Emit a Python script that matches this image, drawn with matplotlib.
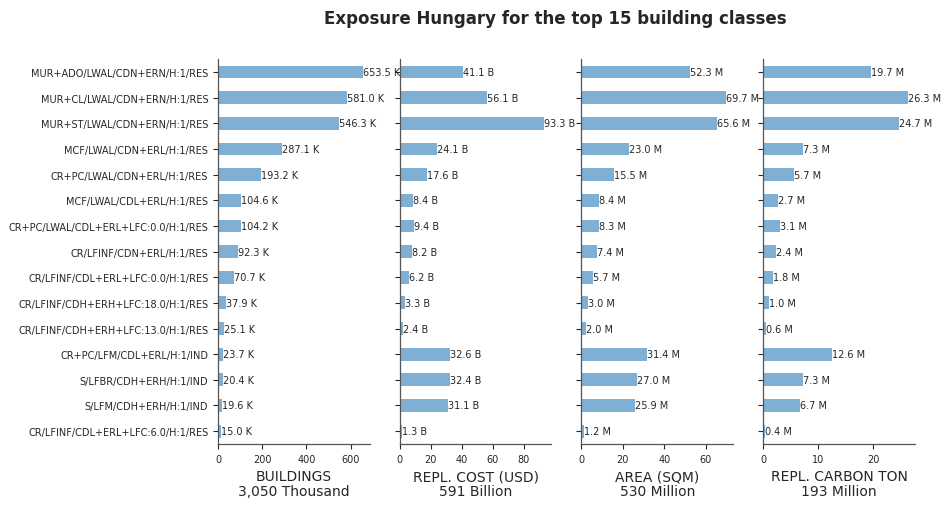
import matplotlib
matplotlib.use("Agg")
import matplotlib.pyplot as plt

categories = [
    "MUR+ADO/LWAL/CDN+ERN/H:1/RES",
    "MUR+CL/LWAL/CDN+ERN/H:1/RES",
    "MUR+ST/LWAL/CDN+ERN/H:1/RES",
    "MCF/LWAL/CDN+ERL/H:1/RES",
    "CR+PC/LWAL/CDN+ERL/H:1/RES",
    "MCF/LWAL/CDL+ERL/H:1/RES",
    "CR+PC/LWAL/CDL+ERL+LFC:0.0/H:1/RES",
    "CR/LFINF/CDN+ERL/H:1/RES",
    "CR/LFINF/CDL+ERL+LFC:0.0/H:1/RES",
    "CR/LFINF/CDH+ERH+LFC:18.0/H:1/RES",
    "CR/LFINF/CDH+ERH+LFC:13.0/H:1/RES",
    "CR+PC/LFM/CDL+ERL/H:1/IND",
    "S/LFBR/CDH+ERH/H:1/IND",
    "S/LFM/CDH+ERH/H:1/IND",
    "CR/LFINF/CDL+ERL+LFC:6.0/H:1/RES",
]

buildings_k = [653.5, 581.0, 546.3, 287.1, 193.2, 104.6, 104.2, 92.3, 70.7, 37.9, 25.1, 23.7, 20.4, 19.6, 15.0]
cost_b = [41.1, 56.1, 93.3, 24.1, 17.6, 8.4, 9.4, 8.2, 6.2, 3.3, 2.4, 32.6, 32.4, 31.1, 1.3]
area_m = [52.3, 69.7, 65.6, 23.0, 15.5, 8.4, 8.3, 7.4, 5.7, 3.0, 2.0, 31.4, 27.0, 25.9, 1.2]
carbon_m = [19.7, 26.3, 24.7, 7.3, 5.7, 2.7, 3.1, 2.4, 1.8, 1.0, 0.6, 12.6, 7.3, 6.7, 0.4]

series = [buildings_k, cost_b, area_m, carbon_m]
units = ["K", "B", "M", "M"]
xlabels = ["BUILDINGS\n3,050 Thousand", "REPL. COST (USD)\n591 Billion",
           "AREA (SQM)\n530 Million", "REPL. CARBON TON\n193 Million"]
title = "Exposure Hungary for the top 15 building classes"

bar_color = "#7fafd3"
text_color = "#262626"

fig, axes = plt.subplots(1, 4, figsize=(9.52, 5.1), dpi=100)
fig.subplots_adjust(left=0.229, right=0.961, top=0.882, bottom=0.1275, wspace=0.197)

ypos = list(range(len(categories)))
for i, (ax, vals, unit, xl) in enumerate(zip(axes, series, units, xlabels)):
    ax.barh(ypos, vals, height=0.5, color=bar_color)
    ax.set_ylim(len(categories) - 0.5, -0.5)
    ax.set_xlim(0, max(vals) * 1.05)
    for y, v in zip(ypos, vals):
        ax.text(v, y, f"{v:.1f} {unit}", va="center", ha="left", fontsize=7, color=text_color)
    ax.set_yticks(ypos)
    if i == 0:
        ax.set_yticklabels(categories, fontsize=7, color=text_color)
    else:
        ax.set_yticklabels([])
    ax.tick_params(axis="x", labelsize=7, colors=text_color, length=3.5)
    ax.tick_params(axis="y", colors=text_color, length=3.5)
    ax.spines["top"].set_visible(False)
    ax.spines["right"].set_visible(False)
    for s in ("left", "bottom"):
        ax.spines[s].set_color("#555555")
        ax.spines[s].set_linewidth(0.9)
    ax.set_xlabel(xl, fontsize=10, color=text_color, labelpad=4, linespacing=1.1)

fig.suptitle(title, fontsize=12, fontweight="bold", color=text_color, x=0.583, y=0.98)

fig.savefig("out.png", dpi=100)
